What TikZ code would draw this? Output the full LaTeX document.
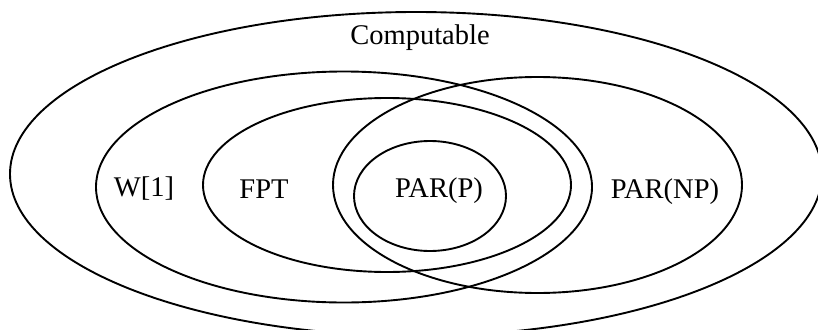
\documentclass[tikz,border=0pt]{standalone}
\usepackage{fontspec}
\setmainfont{Liberation Serif}
\begin{document}
\begin{tikzpicture}[x=1pt,y=-1pt,
  setline/.style={line width=1.9pt, black},
  lbl/.style={font=\fontsize{28.5}{31}\selectfont, inner sep=0pt, anchor=center}]
\useasboundingbox (0,0) rectangle (818,329);
\clip (0,0) rectangle (818,329);
\fill[white] (0,0) rectangle (818,329);
% Computable
\draw[setline] (416,174) ellipse [x radius=406pt, y radius=162pt];
% W[1]
\draw[setline] (344,187) ellipse [x radius=248pt, y radius=115.5pt];
% FPT
\draw[setline] (387,185) ellipse [x radius=184pt, y radius=87pt];
% PAR(NP)
\draw[setline] (537.5,185) ellipse [x radius=204.5pt, y radius=108pt];
% PAR(P)
\draw[setline] (430,196) ellipse [x radius=76pt, y radius=55pt];
\node[lbl] (computable) at (420,38) {Computable};
\node[lbl] (w1) at (144,189) {W[1]};
\node[lbl] (fpt) at (264,189) {FPT};
\node[lbl] (parp) at (439,191) {PAR(P)};
\node[lbl] (parnp) at (665,192) {PAR(NP)};
\end{tikzpicture}
\end{document}
